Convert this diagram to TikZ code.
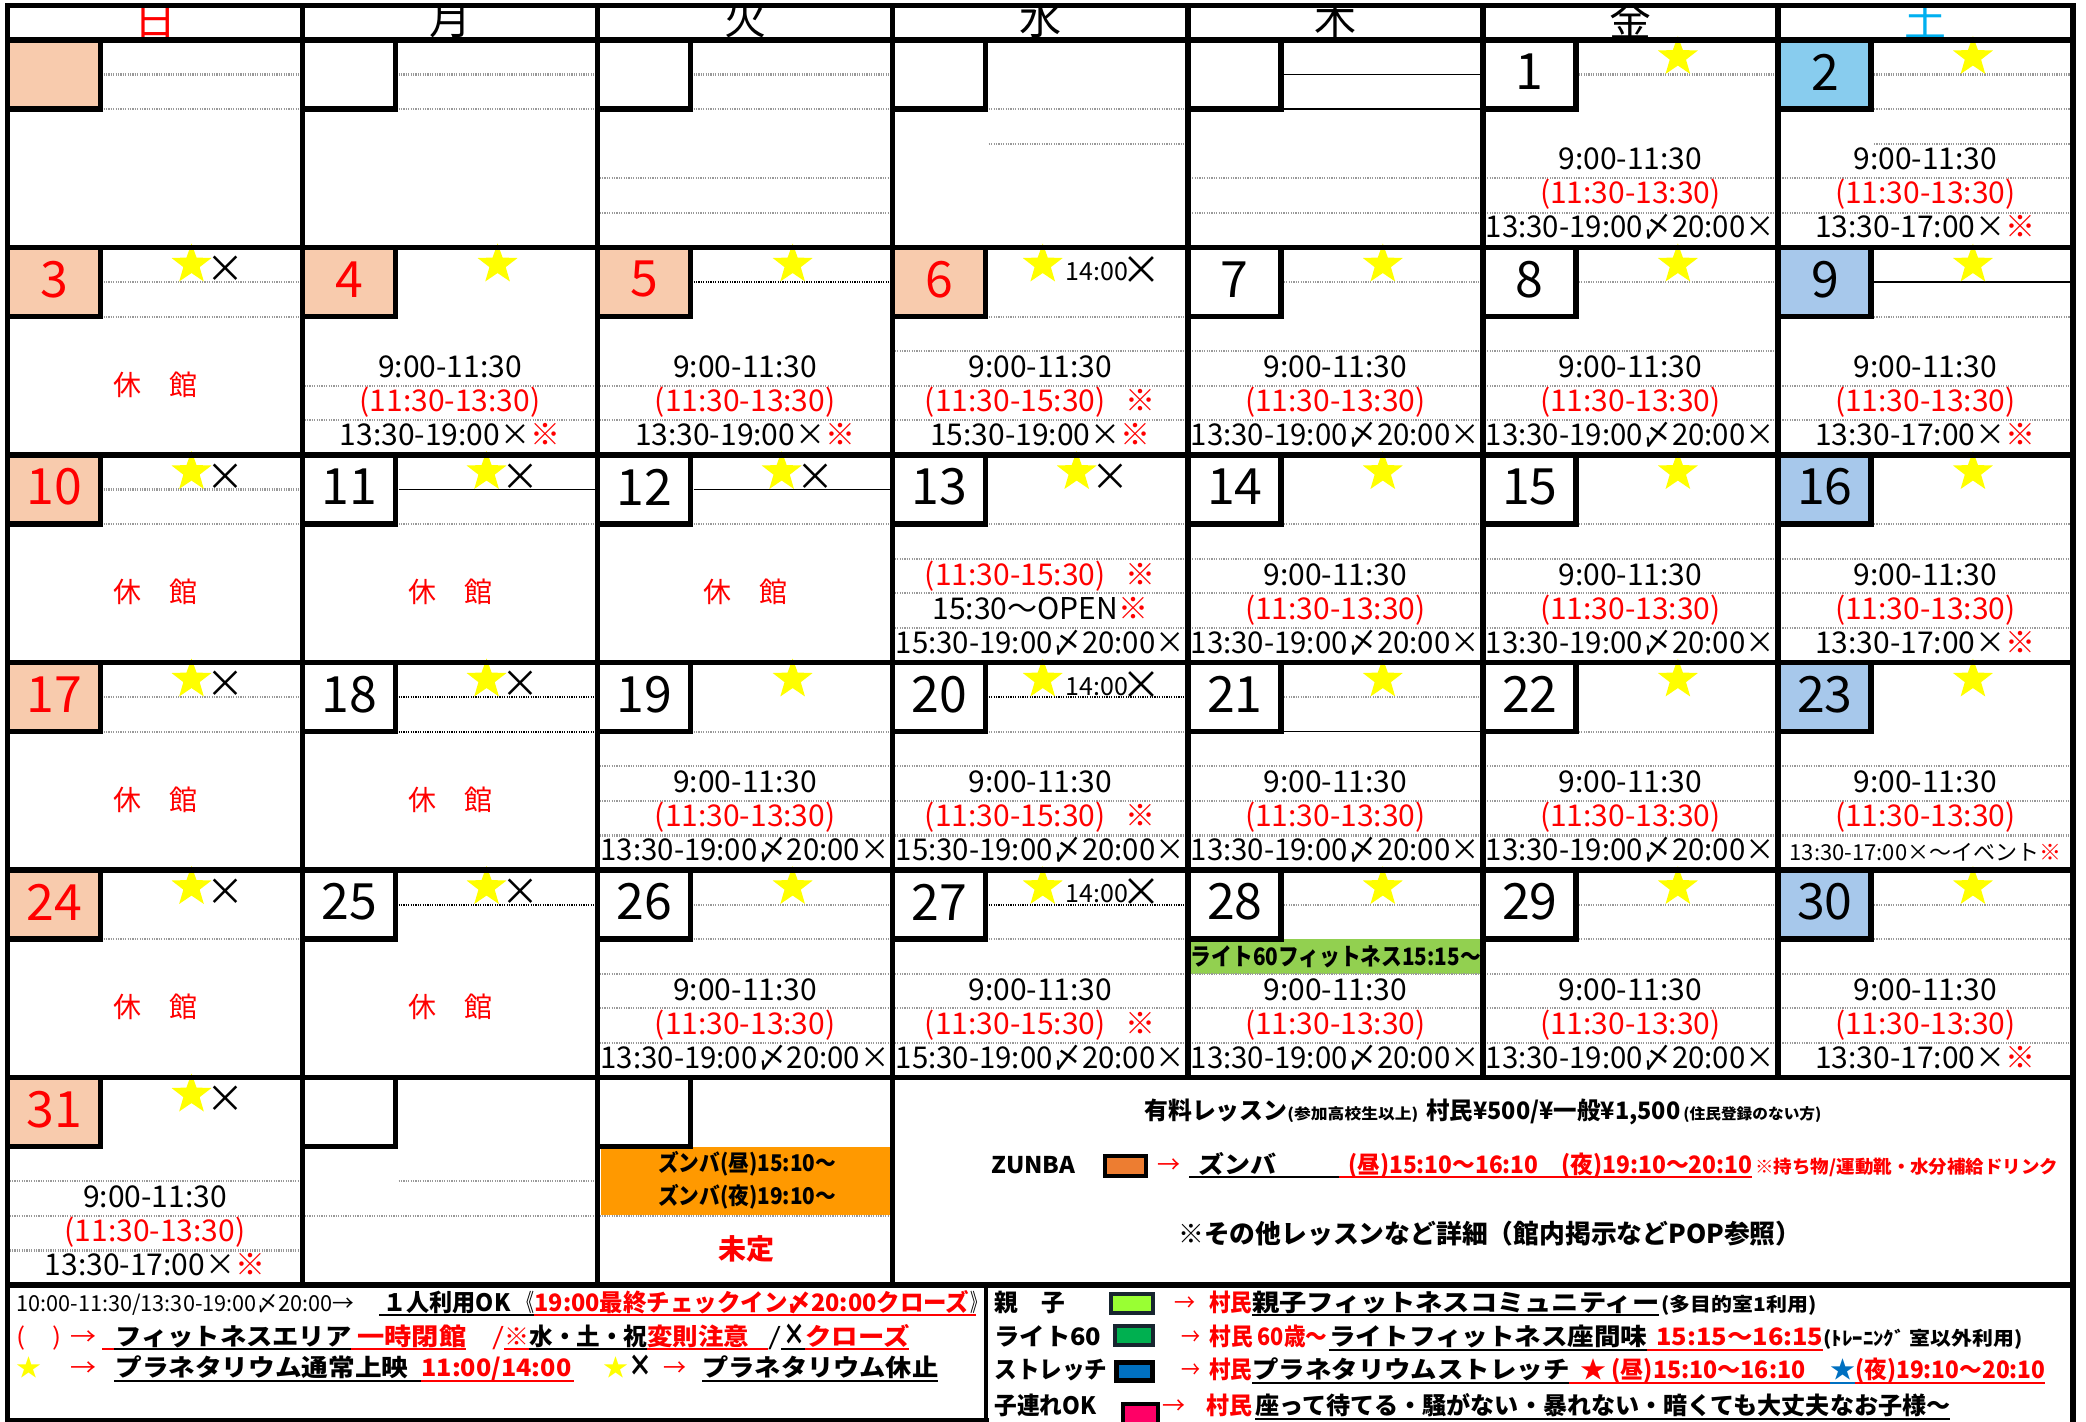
\documentclass[tikz,border=0pt]{standalone}
\usepackage{fontspec}
\usepackage{graphicx}
\setmainfont{Noto Sans CJK JP}
\usetikzlibrary{shapes.geometric,calc}
\newdimen\pxu \pxu=0.5pt
\newsavebox\fitb
\newcommand\fitto[2]{\sbox\fitb{#2}\ifdim\wd\fitb>#1\pxu\relax\resizebox{#1\pxu}{\ht\fitb}{\usebox\fitb}\else\usebox\fitb\fi}
\newcommand\fw[2]{\resizebox{#1\pxu}{\height}{#2}}
\definecolor{salmon}{HTML}{F8CBAD}
\definecolor{sky}{HTML}{88CCEE}
\definecolor{lblue}{HTML}{A7C8EB}
\definecolor{satblue}{HTML}{00B0F0}
\definecolor{gbar}{HTML}{92D050}
\definecolor{obox}{HTML}{FF9900}
\definecolor{zsw}{HTML}{ED7D31}
\definecolor{oyako}{HTML}{99FF33}
\definecolor{lite}{HTML}{00B050}
\definecolor{strc}{HTML}{0070C0}
\definecolor{kozu}{HTML}{FF0066}
\definecolor{dotg}{HTML}{999999}
\definecolor{ystar}{HTML}{FFFF00}
\definecolor{swb}{HTML}{17252F}
\newcommand\schA{9:00-11:30}
\newcommand\schB{\textcolor{red}{(11:30-13:30)}}
\newcommand\schBB{\textcolor{red}{(11:30-15:30)\hspace{10pt}※}}
\newcommand\schC{13:30-19:00〆20:00×}
\newcommand\schCs{13:30-19:00×\textcolor{red}{※}}
\newcommand\schCt{13:30-17:00×\textcolor{red}{※}}
\newcommand\schCw{15:30-19:00〆20:00×}
\newcommand\schCx{15:30-19:00×\textcolor{red}{※}}
% cell helpers
\newcommand\dbox[5]{\begin{scope}[cell={#1}{#2}]\fill[#4] (0,0) rectangle (93,69.2);\node[numtxt,text=#5] (num#1#2) at (47,32) {#3};\end{scope}}
\newcommand\bborder[2]{\begin{scope}[cell={#1}{#2}]\draw[grid] (93,0) -- (93,69.2) -- (0,69.2);\end{scope}}
\newcommand\hl[4]{\begin{scope}[cell={#1}{#2}]\draw[#4] (96,#3) -- (294,#3);\end{scope}}
\newcommand\hlf[4]{\begin{scope}[cell={#1}{#2}]\draw[#4] (2,#3) -- (294,#3);\end{scope}}
\newcommand\lows[2]{\hlf{#1}{#2}{103.75}{dotl}\hlf{#1}{#2}{138.3}{dotl}\hlf{#1}{#2}{172.9}{dotl}}
\newcommand\stA[2]{\begin{scope}[cell={#1}{#2}]\node[ystarsh] (st#1#2) at (195,17) {};\end{scope}}
\newcommand\stX[2]{\begin{scope}[cell={#1}{#2}]\node[ystarsh] (st#1#2) at (184,17) {};\node[xmark] (x#1#2) at (218,22) {×};\end{scope}}
\newcommand\stT[2]{\begin{scope}[cell={#1}{#2}]\node[ystarsh] (st#1#2) at (150,17) {};\node[inner sep=0,font=\fontsize{12.5}{12.5}\selectfont] (t#1#2) at (204,24) {14:00};\node[xmark,font=\fontsize{20}{20}\selectfont] (x#1#2) at (249,23) {×};\end{scope}}
\newcommand\sch[5]{\begin{scope}[cell={#1}{#2}]\node[schtxt] (sa#1#2) at (147.5,130) {#3};\node[schtxt] (sb#1#2) at (147.5,164) {#4};\node[schtxt] (sc#1#2) at (147.5,198) {\fitto{289}{#5}};\end{scope}}
\newcommand\kyu[2]{\begin{scope}[cell={#1}{#2}]\node[kyutxt] (k#1#2) at (147.5,137) {休　館};\end{scope}}
\begin{document}
\begin{tikzpicture}[x=0.5pt,y=-0.5pt,
  cell/.style 2 args={shift={({7.5+295.07*#1},{40+207.5*#2})}},
  grid/.style={line width=2.75pt,line cap=rect,line join=miter},
  thinl/.style={line width=0.75pt,black},
  dotl/.style={line width=1.1pt,dotg,dash pattern=on 0.6pt off 0.6pt},
  bdotl/.style={line width=1.1pt,black,dash pattern=on 0.6pt off 0.6pt},
  numtxt/.style={inner sep=0,font=\fontsize{25}{25}\selectfont},
  schtxt/.style={inner sep=0,anchor=base,font=\fontsize{15}{15}\selectfont},
  ystarsh/.style={star,star points=5,star point ratio=2.45,fill=ystar,draw=none,minimum size=21pt,inner sep=0},
  xmark/.style={inner sep=0,font=\fontsize{19}{19}\selectfont},
  kyutxt/.style={inner sep=0,text=red,font=\fontsize{14}{14}\selectfont},
  hdr/.style={inner sep=0,anchor=south,font=\fontsize{21}{21}\selectfont},
  lg/.style={inner sep=0,anchor=base west,font=\bfseries\fontsize{12}{12}\selectfont},
  lgr/.style={inner sep=0,anchor=base west,font=\fontsize{12}{12}\selectfont},
  lgs/.style={inner sep=0,anchor=base west,font=\bfseries\fontsize{9.5}{9.5}\selectfont},
  lgx/.style={inner sep=0,anchor=base west,font=\bfseries\fontsize{15}{15}\selectfont},
  ul/.style={line width=1.1pt}]
\useasboundingbox (0,0) rectangle (2086,1422);
\fill[white] (0,0) rectangle (2086,1422);
% ---------- header ----------
\begin{scope}
\clip (7.5,5.7) rectangle (2073,40);
\node[hdr,text=red] (h0) at (155.0,38.5) {日};
\node[hdr] (h1) at (450.1,38.5) {月};
\node[hdr] (h2) at (745.2,38.5) {火};
\node[hdr] (h3) at (1040.3,38.5) {水};
\node[hdr] (h4) at (1335.3,38.5) {木};
\node[hdr] (h5) at (1630.4,38.5) {金};
\node[hdr,text=satblue] (h6) at (1925.5,38.5) {土};
\end{scope}
% ---------- day boxes ----------
\dbox{0}{0}{}{salmon}{red}\dbox{1}{0}{}{white}{black}\dbox{2}{0}{}{white}{black}\dbox{3}{0}{}{white}{black}\dbox{4}{0}{}{white}{black}\dbox{5}{0}{1}{white}{black}\dbox{6}{0}{2}{sky}{black}
\dbox{0}{1}{3}{salmon}{red}\dbox{1}{1}{4}{salmon}{red}\dbox{2}{1}{5}{salmon}{red}\dbox{3}{1}{6}{salmon}{red}\dbox{4}{1}{7}{white}{black}\dbox{5}{1}{8}{white}{black}\dbox{6}{1}{9}{lblue}{black}
\dbox{0}{2}{10}{salmon}{red}\dbox{1}{2}{11}{white}{black}\dbox{2}{2}{12}{white}{black}\dbox{3}{2}{13}{white}{black}\dbox{4}{2}{14}{white}{black}\dbox{5}{2}{15}{white}{black}\dbox{6}{2}{16}{lblue}{black}
\dbox{0}{3}{17}{salmon}{red}\dbox{1}{3}{18}{white}{black}\dbox{2}{3}{19}{white}{black}\dbox{3}{3}{20}{white}{black}\dbox{4}{3}{21}{white}{black}\dbox{5}{3}{22}{white}{black}\dbox{6}{3}{23}{lblue}{black}
\dbox{0}{4}{24}{salmon}{red}\dbox{1}{4}{25}{white}{black}\dbox{2}{4}{26}{white}{black}\dbox{3}{4}{27}{white}{black}\dbox{4}{4}{28}{white}{black}\dbox{5}{4}{29}{white}{black}\dbox{6}{4}{30}{lblue}{black}
\dbox{0}{5}{31}{salmon}{red}\dbox{1}{5}{}{white}{black}\dbox{2}{5}{}{white}{black}
% ---------- special fills ----------
\begin{scope}[cell={4}{4}]
\fill[gbar] (2,69.2) rectangle (295,103.75);
\node[inner sep=0,anchor=base,font=\bfseries\fontsize{12}{12}\selectfont] (g28) at (148,95) {\fw{290}{ライト60フィットネス15:15～}};
\end{scope}
\begin{scope}[cell={2}{5}]
\fill[obox] (3,69.5) rectangle (293,137.5);
\node[inner sep=0,font=\bfseries\fontsize{11.5}{11.5}\selectfont] (z1) at (149.5,86) {\fw{178}{ズンバ(昼)15:10～}};
\node[inner sep=0,font=\bfseries\fontsize{11.5}{11.5}\selectfont] (z2) at (149.5,119.5) {\fw{178}{ズンバ(夜)19:10～}};
\node[inner sep=0,text=red,font=\bfseries\fontsize{14}{14}\selectfont] (mt) at (148.6,171) {未定};
\end{scope}
% ---------- lines inside cells ----------
\hl{0}{0}{34.6}{dotl}\hl{0}{0}{69.2}{dotl}
\hl{1}{0}{34.6}{dotl}\hl{1}{0}{69.2}{dotl}
\hl{2}{0}{34.6}{dotl}\hl{2}{0}{69.2}{dotl}\hlf{2}{0}{138.3}{dotl}\hlf{2}{0}{172.9}{dotl}
\hl{3}{0}{69.2}{dotl}\hl{3}{0}{103.75}{dotl}
\hl{4}{0}{34.6}{thinl}\hl{4}{0}{69.2}{thinl}\hlf{4}{0}{138.3}{dotl}\hlf{4}{0}{172.9}{dotl}
\hl{5}{0}{34.6}{dotl}\hlf{5}{0}{138.3}{dotl}\hlf{5}{0}{172.9}{dotl}
\hl{6}{0}{34.6}{dotl}\hl{6}{0}{69.2}{dotl}\hl{6}{0}{103.75}{dotl}\hlf{6}{0}{138.3}{dotl}\hlf{6}{0}{172.9}{dotl}
\hl{0}{1}{34.6}{dotl}\hl{0}{1}{69.2}{dotl}
\hlf{1}{1}{138.3}{dotl}\hlf{1}{1}{172.9}{dotl}
\hl{2}{1}{34.6}{bdotl}\hlf{2}{1}{138.3}{dotl}\hlf{2}{1}{172.9}{dotl}
\hl{3}{1}{69.2}{dotl}\lows{3}{1}
\hl{4}{1}{34.6}{dotl}\lows{4}{1}
\hl{5}{1}{34.6}{dotl}\lows{5}{1}
\hl{6}{1}{34.6}{thinl}\hl{6}{1}{69.2}{dotl}\hlf{6}{1}{138.3}{dotl}\hlf{6}{1}{172.9}{dotl}
\hl{0}{2}{34.6}{dotl}\hl{0}{2}{69.2}{dotl}
\hl{1}{2}{34.6}{thinl}\hl{1}{2}{69.2}{dotl}
\hl{2}{2}{34.6}{thinl}\hl{2}{2}{69.2}{dotl}
\hl{3}{2}{69.2}{dotl}\lows{3}{2}
\hl{4}{2}{69.2}{dotl}\lows{4}{2}
\hl{5}{2}{69.2}{dotl}\lows{5}{2}
\hl{6}{2}{69.2}{dotl}\lows{6}{2}
\hl{0}{3}{34.6}{dotl}\hl{0}{3}{69.2}{dotl}
\hl{1}{3}{34.6}{bdotl}\hl{1}{3}{69.2}{bdotl}
\hl{2}{3}{69.2}{dotl}\lows{2}{3}
\hl{3}{3}{34.6}{bdotl}\hl{3}{3}{69.2}{dotl}\lows{3}{3}
\hl{4}{3}{34.6}{dotl}\hl{4}{3}{69.2}{thinl}\lows{4}{3}
\hl{5}{3}{69.2}{dotl}\lows{5}{3}
\lows{6}{3}
\hl{0}{4}{69.2}{dotl}
\hl{1}{4}{34.6}{bdotl}
\hl{2}{4}{34.6}{dotl}\hl{2}{4}{69.2}{dotl}\lows{2}{4}
\hl{3}{4}{34.6}{bdotl}\hl{3}{4}{69.2}{dotl}\lows{3}{4}
\hl{4}{4}{34.6}{dotl}\lows{4}{4}
\hl{5}{4}{34.6}{dotl}\hl{5}{4}{69.2}{dotl}\lows{5}{4}
\hl{6}{4}{34.6}{dotl}\hl{6}{4}{69.2}{dotl}\lows{6}{4}
\lows{0}{5}
\hl{1}{5}{103.75}{dotl}\hlf{1}{5}{138.3}{dotl}
\hlf{2}{5}{138.3}{dotl}
% ---------- stars ----------
\stA{5}{0}\stA{6}{0}
\stX{0}{1}\stA{1}{1}\stA{2}{1}\stT{3}{1}\stA{4}{1}\stA{5}{1}\stA{6}{1}
\stX{0}{2}\stX{1}{2}\stX{2}{2}\stX{3}{2}\stA{4}{2}\stA{5}{2}\stA{6}{2}
\stX{0}{3}\stX{1}{3}\stA{2}{3}\stT{3}{3}\stA{4}{3}\stA{5}{3}\stA{6}{3}
\stX{0}{4}\stX{1}{4}\stA{2}{4}\stT{3}{4}\stA{4}{4}\stA{5}{4}\stA{6}{4}
\stX{0}{5}
% ---------- schedules ----------
\sch{5}{0}{\schA}{\schB}{\schC}
\sch{6}{0}{\schA}{\schB}{\schCt}
\sch{1}{1}{\schA}{\schB}{\schCs}
\sch{2}{1}{\schA}{\schB}{\schCs}
\sch{3}{1}{\schA}{\schBB}{\schCx}
\sch{4}{1}{\schA}{\schB}{\schC}
\sch{5}{1}{\schA}{\schB}{\schC}
\sch{6}{1}{\schA}{\schB}{\schCt}
\sch{3}{2}{\schBB}{15:30～OPEN\textcolor{red}{※}}{\schCw}
\sch{4}{2}{\schA}{\schB}{\schC}
\sch{5}{2}{\schA}{\schB}{\schC}
\sch{6}{2}{\schA}{\schB}{\schCt}
\sch{2}{3}{\schA}{\schB}{\schC}
\sch{3}{3}{\schA}{\schBB}{\schCw}
\sch{4}{3}{\schA}{\schB}{\schC}
\sch{5}{3}{\schA}{\schB}{\schC}
\sch{6}{3}{\schA}{\schB}{\fontsize{11}{11}\selectfont 13:30-17:00×～イベント\textcolor{red}{※}}
\sch{2}{4}{\schA}{\schB}{\schC}
\sch{3}{4}{\schA}{\schBB}{\schCw}
\sch{4}{4}{\schA}{\schB}{\schC}
\sch{5}{4}{\schA}{\schB}{\schC}
\sch{6}{4}{\schA}{\schB}{\schCt}
\sch{0}{5}{\schA}{\schB}{\schCt}
\kyu{0}{1}\kyu{0}{2}\kyu{1}{2}\kyu{2}{2}\kyu{0}{3}\kyu{1}{3}\kyu{0}{4}\kyu{1}{4}
% ---------- merged info area ----------
\node[lg] (m1) at (1144,1119) {\fw{143}{有料レッスン}};
\node[inner sep=0,anchor=base west,font=\bfseries\fontsize{7.5}{7.5}\selectfont] (m2) at (1287,1119) {\fw{131}{(参加高校生以上)}};
\node[lg] (m3) at (1426,1119) {\fw{254}{村民¥500/¥一般¥1,500}};
\node[inner sep=0,anchor=base west,font=\bfseries\fontsize{7.5}{7.5}\selectfont] (m4) at (1683,1119) {\fw{138}{(住民登録のない方)}};
\node[lg,font=\bfseries\fontsize{11.5}{11.5}\selectfont] (zt) at (991,1173) {\fw{84}{ZUNBA}};
\draw[line width=2pt,fill=zsw] (1105,1156) rectangle (1146,1176);
\node[lgr,text=red] (za) at (1157,1173) {\fw{23}{→}};
\node[lg] (zb) at (1198,1173) {\fw{78}{ズンバ}};
\node[lg,text=red] (zc) at (1348,1173) {\fw{190}{(昼)15:10～16:10}};
\node[lg,text=red] (zd) at (1561,1173) {\fw{191}{(夜)19:10～20:10}};
\node[lgs,font=\bfseries\fontsize{9}{9}\selectfont,text=red] (ze) at (1755,1173) {\fw{303}{※持ち物/運動靴・水分補給ドリンク}};
\draw[ul] (1189,1177) -- (1339,1177);
\draw[ul,red] (1339,1177) -- (1752,1177);
\node[lg,font=\bfseries\fontsize{13}{13}\selectfont] (m5) at (1178,1243) {\fw{623}{※その他レッスンなど詳細（館内掲示などPOP参照）}};
% ---------- left legend ----------
\node[lgr,font=\fontsize{11}{11}\selectfont] (la1) at (16,1311) {\fw{338}{10:00-11:30/13:30-19:00〆20:00→}};
\node[lg] (la2) at (383,1311) {\fw{127}{１人利用OK}};
\node[lgr] (la3) at (518,1311) {\fw{16}{《}};
\node[lg,text=red] (la4) at (534,1311) {\fw{435}{19:00最終チェックイン〆20:00クローズ}};
\node[lgr] (la5) at (970,1311) {\fw{15}{》}};
\draw[ul] (379,1315) -- (534,1315);
\draw[ul,red] (534,1315) -- (976,1315);
\node[lgr,text=red] (lb1) at (16,1345) {\fw{45}{(　)}};
\node[lgr,text=red] (lb2) at (70,1345) {\fw{26}{→}};
\node[lg] (lb3) at (115,1345) {\fw{236}{フィットネスエリア}};
\node[lg,text=red] (lb4) at (357,1345) {\fw{109}{一時閉館}};
\node[lgr,text=red] (lb5) at (492,1345) {\fw{12}{/}};
\node[lg,text=red] (lb6) at (504,1345) {\fw{25}{※}};
\node[lg] (lb7) at (529,1345) {\fw{118}{水・土・祝}};
\node[lg,text=red] (lb8) at (647,1345) {\fw{102}{変則注意}};
\node[lgr] (lb9) at (768,1345) {\fw{13}{/}};
\node[lgx] (lb10) at (783,1345) {\fw{22}{×}};
\node[lg,text=red] (lb11) at (805,1345) {\fw{104}{クローズ}};
\draw[ul,red] (102,1349) -- (114,1349);
\draw[ul] (114,1349) -- (351,1349);
\draw[ul,red] (351,1349) -- (466,1349);
\draw[ul,red] (504,1349) -- (529,1349);
\draw[ul] (529,1349) -- (647,1349);
\draw[ul,red] (647,1349) -- (768,1349);
\draw[ul] (781,1349) -- (805,1349);
\draw[ul,red] (805,1349) -- (909,1349);
\node[lg,text=ystar] (lc1) at (16,1376) {\fw{25}{★}};
\node[lgr,text=red] (lc2) at (70,1376) {\fw{26}{→}};
\node[lg] (lc3) at (115,1376) {\fw{293}{プラネタリウム通常上映}};
\node[lg,text=red] (lc4) at (421,1376) {\fw{150}{11:00/14:00}};
\node[lg,text=ystar] (lc5) at (603,1376) {\fw{25}{★}};
\node[lgx] (lc6) at (628,1376) {\fw{24}{×}};
\node[lgr,text=red] (lc7) at (663,1376) {\fw{23}{→}};
\node[lg] (lc8) at (702,1376) {\fw{236}{プラネタリウム休止}};
\draw[ul] (114,1381) -- (421,1381);
\draw[ul,red] (421,1381) -- (574,1381);
\draw[ul] (702,1381) -- (938,1381);
% ---------- right legend ----------
\node[lg] (ra1) at (994,1311) {\fw{71}{親　子}};
\draw[line width=2pt,draw=swb,fill=oyako] (1111,1294) rectangle (1153,1313);
\node[lgr,text=red] (ra2) at (1174,1311) {\fw{21}{→}};
\node[lg,text=red] (ra3) at (1209,1311) {\fw{43}{村民}};
\node[lg] (ra4) at (1252,1311) {\fw{407}{親子フィットネスコミュニティー}};
\node[lgs] (ra5) at (1661,1311) {\fw{155}{(多目的室1利用)}};
\draw[ul] (1252,1315) -- (1659,1315);
\node[lg] (rb1) at (994,1345) {\fw{107}{ライト60}};
\draw[line width=2pt,draw=swb,fill=lite] (1115,1326) rectangle (1153,1345);
\node[lgr,text=red] (rb2) at (1181,1345) {\fw{19}{→}};
\node[lg,text=red] (rb3) at (1209,1345) {\fw{118}{村民 60歳～}};
\node[lg] (rb4) at (1329,1345) {\fw{318}{ライトフィットネス座間味}};
\node[lg,text=red] (rb5) at (1656,1345) {\fw{167}{15:15～16:15}};
\node[lgs] (rb6) at (1823,1345) {\fw{199}{(ﾄﾚｰﾆﾝｸﾞ 室以外利用)}};
\draw[ul] (1329,1350) -- (1647,1350);
\draw[ul,red] (1647,1350) -- (1823,1350);
\node[lg] (rc1) at (994,1378) {\fw{113}{ストレッチ}};
\draw[line width=2.5pt,fill=strc] (1116.5,1362.5) rectangle (1152.5,1380.5);
\node[lgr,text=red] (rc2) at (1181,1378) {\fw{19}{→}};
\node[lg,text=red] (rc3) at (1209,1378) {\fw{43}{村民}};
\node[lg] (rc4) at (1252,1378) {\fw{317}{プラネタリウムストレッチ}};
\node[lg,text=red] (rc5) at (1580,1378) {\fw{26}{★}};
\node[lg,text=red] (rc6) at (1611,1378) {\fw{194}{(昼)15:10～16:10}};
\node[lg,text=strc] (rc7) at (1830,1378) {\fw{25}{★}};
\node[lg,text=red] (rc8) at (1855,1378) {\fw{190}{(夜)19:10～20:10}};
\draw[ul] (1252,1383) -- (1569,1383);
\draw[ul,red] (1569,1383) -- (1830,1383);
\draw[ul,strc] (1830,1383) -- (1855,1383);
\draw[ul,red] (1855,1383) -- (2045,1383);
\node[lg] (rd1) at (994,1414) {\fw{102}{子連れOK}};
\draw[line width=2pt,fill=kozu] (1123,1404) rectangle (1158,1424);
\node[lgr,text=red] (rd2) at (1162,1414) {\fw{23}{→}};
\node[lg,text=red] (rd3) at (1206,1414) {\fw{46}{村民}};
\node[lg] (rd4) at (1255,1414) {\fw{695}{座って待てる・騒がない・暴れない・暗くても大丈夫なお子様～}};
\draw[ul] (1255,1419) -- (1950,1419);
% ---------- grid ----------
\foreach \yy in {5.7,40,247.5,455,662.5,870,1077.5,1285} {\draw[grid] (7.5,\yy) -- (2073,\yy);}
\foreach \xx in {7.5,302.57,597.64,892.71} {\draw[grid] (\xx,5.7) -- (\xx,1285);}
\foreach \xx in {1187.78,1482.85,1777.92} {\draw[grid] (\xx,5.7) -- (\xx,1077.5);}
\draw[grid] (2073,5.7) -- (2073,1420);
\draw[grid] (7.5,1285) -- (7.5,1420);
\draw[line width=2pt] (986,1285) -- (986,1422);
\draw[grid] (7.5,1421) -- (986,1421);
\foreach \r in {0,...,4} {\foreach \c in {0,...,6} {\bborder{\c}{\r}}}
\bborder{0}{5}\bborder{1}{5}\bborder{2}{5}
\end{tikzpicture}
\end{document}
